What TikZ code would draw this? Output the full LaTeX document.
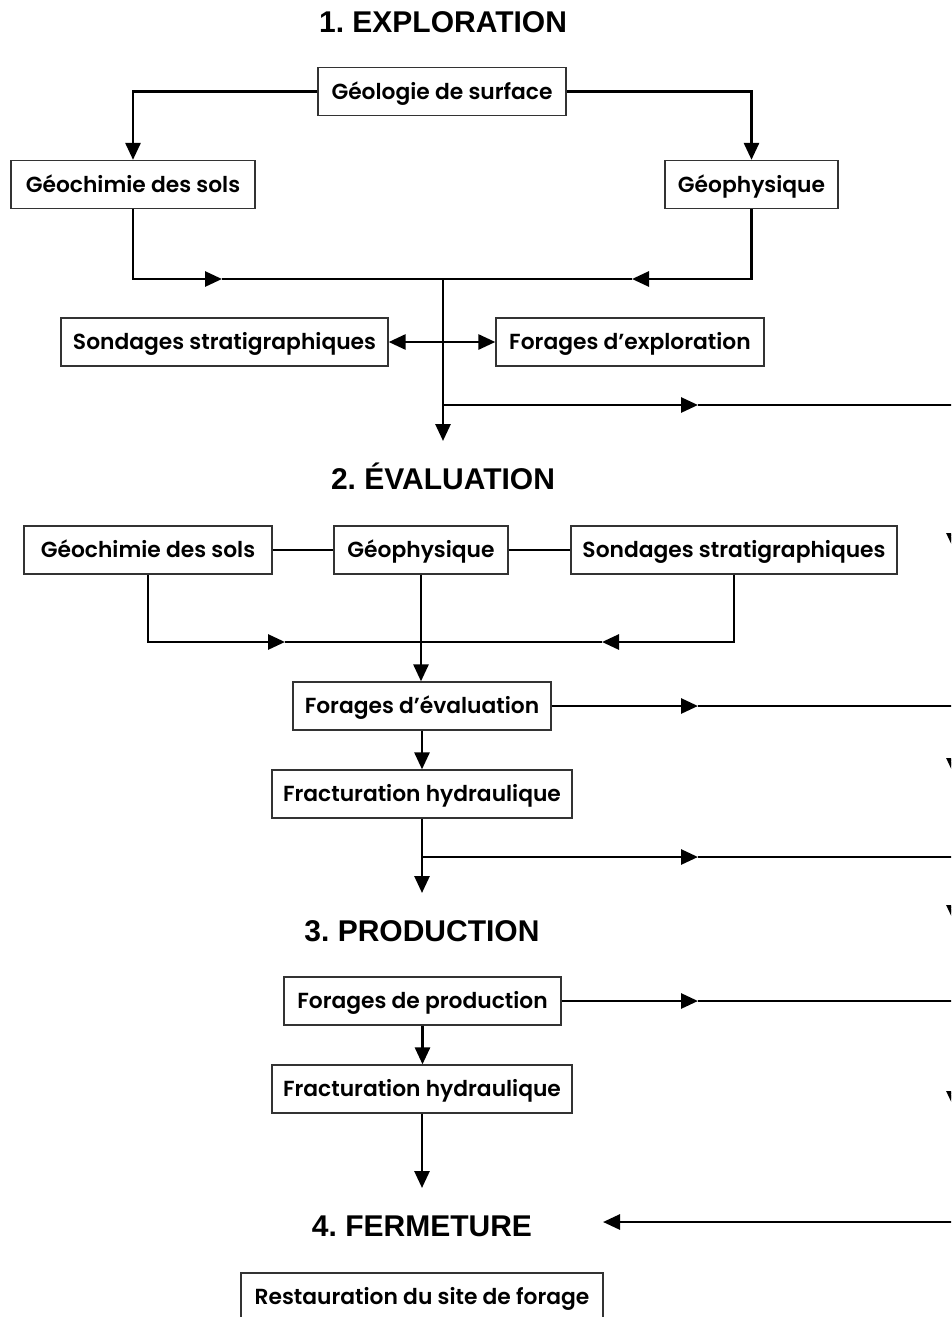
\documentclass[tikz,border=0pt]{standalone}
\usepackage{fontspec}
\setmainfont{Liberation Sans}
\newfontfamily\boxfont{Poppins SemiBold}[Ligatures=NoCommon]
\usetikzlibrary{arrows.meta}
\begin{document}
\frenchspacing
\begin{tikzpicture}[x=1pt,y=-1pt,
  box/.style={draw=black!80, line width=1.3pt, fill=white, inner sep=0pt,
    minimum height=48pt, text height=15pt, text depth=0pt,
    font=\boxfont\fontsize{21.8}{25}\selectfont},
  stage/.style={inner sep=0pt, text height=22pt, text depth=0pt,
    font=\bfseries\fontsize{30}{34}\selectfont},
  link/.style={line width=2.8pt},
  tip/.style={-{Triangle[length=17pt,width=15pt]}},
  tips/.style={{Triangle[length=17pt,width=15pt]}-{Triangle[length=17pt,width=15pt]}},
]
\useasboundingbox (0,0) rectangle (951,1317);
\clip (0,0) rectangle (951,1317);

% ---- stage titles
\node[stage] (t1) at (443,21) {1. EXPLORATION};
\node[stage] (t2) at (443,478) {2. ÉVALUATION};
\node[stage] (t3) at (422,930) {3. PRODUCTION};
\node[stage] (t4) at (422,1225) {4. FERMETURE};

% ---- exploration
\node[box, minimum width=248pt] (geol) at (442,91.5) {Géologie de surface};
\node[box, minimum width=244pt] (chim1) at (133,184.5) {Géochimie des sols};
\node[box, minimum width=173pt] (phys1) at (751.5,184.5) {Géophysique};
\node[box, minimum width=327pt] (sond1) at (224.5,342) {Sondages stratigraphiques};
\node[box, minimum width=268pt] (forexp) at (630,342) {Forages d’exploration};

% ---- evaluation
\node[box, minimum width=248pt] (chim2) at (148,550) {Géochimie des sols};
\node[box, minimum width=174pt] (phys2) at (421,550) {Géophysique};
\node[box, minimum width=326pt] (sond2) at (734,550) {Sondages stratigraphiques};
\node[box, minimum width=258pt] (foreval) at (422,706) {Forages d’évaluation};
\node[box, minimum width=300pt] (frac1) at (422,794) {Fracturation hydraulique};

% ---- production
\node[box, minimum width=277pt] (forprod) at (422.5,1001) {Forages de production};
\node[box, minimum width=300pt] (frac2) at (422,1089) {Fracturation hydraulique};

% ---- closure
\node[box, minimum width=362pt] (rest) at (422,1297) {Restauration du site de forage};

% ---- junction and arrow-tip points
\coordinate (j1) at (443,279);
\coordinate (a1) at (222,279);
\coordinate (a2) at (632,279);
\coordinate (d1) at (443,441);
\coordinate (b1) at (443,405);
\coordinate (r1) at (698,405);
\coordinate (e1) at (954,405);

\coordinate (j2) at (423,642);
\coordinate (a3) at (285,642);
\coordinate (a4) at (602,642);
\coordinate (r2) at (698,706);
\coordinate (e2) at (954,706);

\coordinate (b3) at (422,857);
\coordinate (d3) at (422,893);
\coordinate (r3) at (698,857);
\coordinate (e3) at (954,857);

\coordinate (r4) at (698,1001);
\coordinate (e4) at (954,1001);
\coordinate (d4) at (422,1188);

\coordinate (v1) at (954,550);
\coordinate (v2) at (954,775);
\coordinate (v3) at (954,922);
\coordinate (v4) at (954,1108);
\coordinate (e5) at (954,1222);
\coordinate (f4) at (603,1222);

% ---- exploration connectors
\draw[link,tip] (geol.west) -| (chim1.north);
\draw[link,tip] (geol.east) -| (phys1.north);
\draw[link,tip] (chim1.south) |- (a1);
\draw[link] (a1) -- (j1);
\draw[link,tip] (phys1.south) |- (a2);
\draw[link] (a2) -- (j1);
\draw[link,tip] (j1) -- (d1);
\draw[link,tips] (sond1.east) -- (forexp.west);
\draw[link,tip] (b1) -- (r1);
\draw[link] (r1) -- (e1);

% ---- evaluation connectors
\draw[link] (chim2.east) -- (phys2.west);
\draw[link] (phys2.east) -- (sond2.west);
\draw[link,tip] (chim2.south) |- (a3);
\draw[link] (a3) -- (j2);
\draw[link,tip] (sond2.south) |- (a4);
\draw[link] (a4) -- (j2);
\draw[link,tip] (phys2.south) -- (phys2.south |- foreval.north);
\draw[link,tip] (foreval.east) -- (r2);
\draw[link] (r2) -- (e2);
\draw[link,tip] (foreval.south) -- (frac1.north);
\draw[link,tip] (frac1.south) -- (d3);
\draw[link,tip] (b3) -- (r3);
\draw[link] (r3) -- (e3);

% ---- production connectors
\draw[link,tip] (forprod.east) -- (r4);
\draw[link] (r4) -- (e4);
\draw[link,tip] (forprod.south) -- (forprod.south |- frac2.north);
\draw[link,tip] (frac2.south) -- (d4);

% ---- collector on the right edge, leading to closure
\draw[link,tip] (e1) -- (v1);
\draw[link,tip] (v1) -- (v2);
\draw[link,tip] (v2) -- (v3);
\draw[link,tip] (v3) -- (v4);
\draw[link] (v4) -- (e5);
\draw[link,tip] (e5) -- (f4);
\end{tikzpicture}
\end{document}
